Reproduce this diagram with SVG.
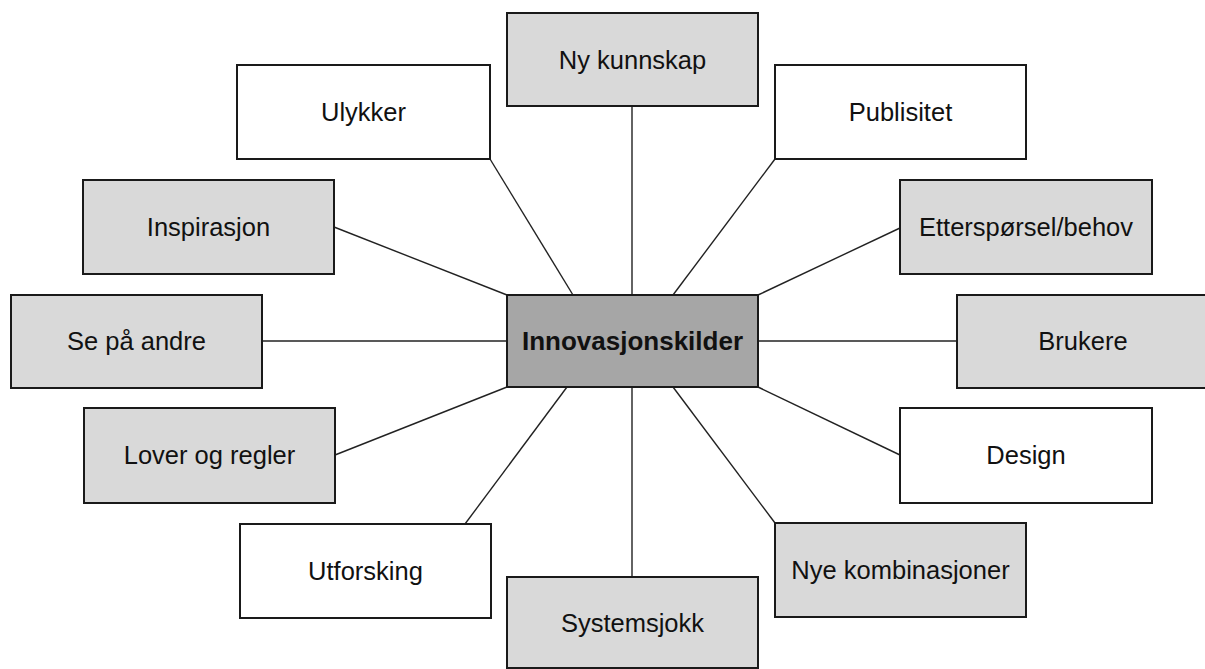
<svg xmlns="http://www.w3.org/2000/svg" width="1205" height="669" viewBox="0 0 1205 669">
<style>
.box{stroke:#1a1a1a;stroke-width:2}
.g{fill:#d9d9d9}
.w{fill:#ffffff}
.c{fill:#a6a6a6}
.t{font-family:"Liberation Sans",Arial,sans-serif;font-size:25.5px;fill:#111;text-anchor:middle}
.tb{font-weight:bold;font-size:26px}
#connectors line{stroke:#222;stroke-width:1.4}
</style>
<rect width="1205" height="669" fill="#ffffff"/>
<g id="connectors">
<line x1="632" y1="106" x2="632" y2="295"/>
<line x1="490" y1="159" x2="573" y2="295"/>
<line x1="775" y1="159" x2="673" y2="295"/>
<line x1="334" y1="227" x2="507" y2="295"/>
<line x1="900" y1="228" x2="758" y2="295"/>
<line x1="262" y1="341" x2="507" y2="341"/>
<line x1="758" y1="341" x2="957" y2="341"/>
<line x1="335" y1="455" x2="507" y2="387"/>
<line x1="900" y1="455" x2="758" y2="387"/>
<line x1="465" y1="524" x2="567" y2="387"/>
<line x1="775" y1="523" x2="673" y2="387"/>
<line x1="632" y1="387" x2="632" y2="577"/>
</g>
<g id="ny-kunnskap"><rect class="box g" x="507" y="13" width="251" height="93"/><text class="t" x="632.5" y="68.5">Ny kunnskap</text></g>
<g id="ulykker"><rect class="box w" x="237" y="65" width="253" height="94"/><text class="t" x="363.5" y="121">Ulykker</text></g>
<g id="publisitet"><rect class="box w" x="775" y="65" width="251" height="94"/><text class="t" x="900.5" y="121">Publisitet</text></g>
<g id="inspirasjon"><rect class="box g" x="83" y="180" width="251" height="94"/><text class="t" x="208.5" y="236">Inspirasjon</text></g>
<g id="ettersporsel"><rect class="box g" x="900" y="180" width="252" height="94"/><text class="t" x="1026" y="236">Etterspørsel/behov</text></g>
<g id="se-pa-andre"><rect class="box g" x="11" y="295" width="251" height="93"/><text class="t" x="136.5" y="350">Se på andre</text></g>
<g id="innovasjonskilder"><rect class="box c" x="507" y="295" width="251" height="92"/><text class="t tb" x="632.5" y="350">Innovasjonskilder</text></g>
<g id="brukere"><rect class="box g" x="957" y="295" width="252" height="93"/><text class="t" x="1083" y="350">Brukere</text></g>
<g id="lover-og-regler"><rect class="box g" x="84" y="408" width="251" height="95"/><text class="t" x="209.5" y="464">Lover og regler</text></g>
<g id="design"><rect class="box w" x="900" y="408" width="252" height="95"/><text class="t" x="1026" y="464">Design</text></g>
<g id="utforsking"><rect class="box w" x="240" y="524" width="251" height="94"/><text class="t" x="365.5" y="580">Utforsking</text></g>
<g id="nye-kombinasjoner"><rect class="box g" x="775" y="523" width="251" height="94"/><text class="t" x="900.5" y="579">Nye kombinasjoner</text></g>
<g id="systemsjokk"><rect class="box g" x="507" y="577" width="251" height="91"/><text class="t" x="632.5" y="632">Systemsjokk</text></g>
</svg>
